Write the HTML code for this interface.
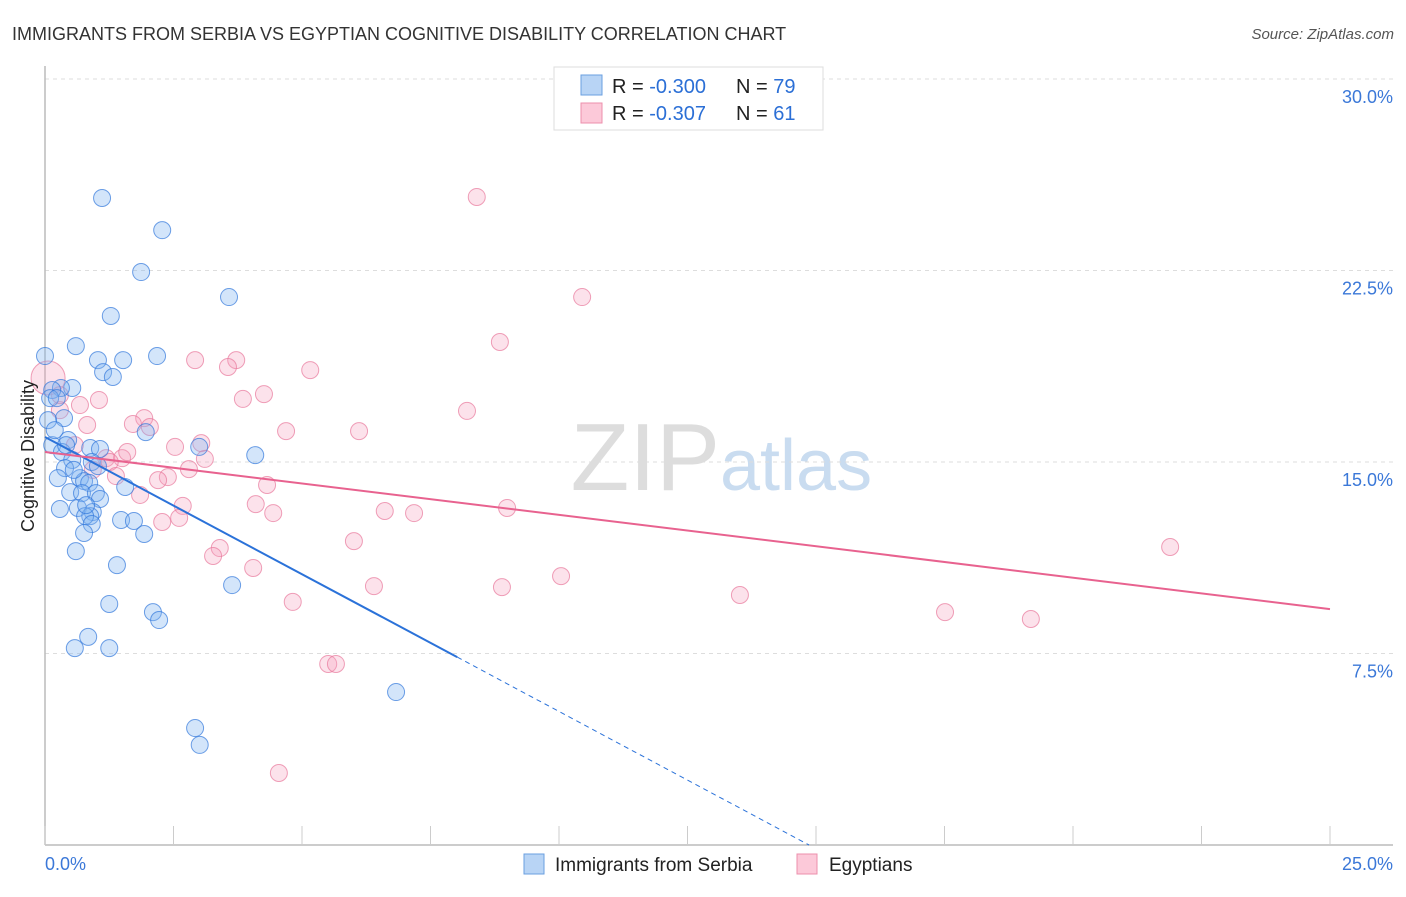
<!DOCTYPE html>
<html><head><meta charset="utf-8"><style>
body{margin:0;background:#fff;font-family:"Liberation Sans",sans-serif;}
svg text{font-family:"Liberation Sans",sans-serif;}
</style></head><body>
<svg id="chart" width="1406" height="892" xmlns="http://www.w3.org/2000/svg">
<text x="12" y="40" font-size="18" fill="#333">IMMIGRANTS FROM SERBIA VS EGYPTIAN COGNITIVE DISABILITY CORRELATION CHART</text>
<text x="1394" y="39" font-size="15" fill="#555" font-style="italic" text-anchor="end">Source: ZipAtlas.com</text>
<text x="720" y="490" font-size="96" fill="#ddd" text-anchor="end" font-family="Liberation Serif">ZIP</text>
<text x="720" y="490" font-size="72" fill="#c9dcf0">atlas</text>
<g id="grid"></g>
<g id="axes"></g>
<g id="pinkPts"></g>
<g id="bluePts"></g>
<g id="lines"></g>
<text transform="translate(34,456) rotate(-90)" font-size="18" fill="#222" text-anchor="middle">Cognitive Disability</text>
<g>
<rect x="554" y="67" width="269" height="63" fill="#fff" stroke="#ddd"/>
<rect x="581" y="75" width="21" height="20" fill="#b8d4f5" stroke="#6a9fe0"/>
<rect x="581" y="103" width="21" height="20" fill="#fcc9d9" stroke="#ec8fac"/>
<text x="612" y="93" font-size="20" fill="#222">R = <tspan fill="#2b6fd6">-0.300</tspan></text>
<text x="736" y="93" font-size="20" fill="#222">N = <tspan fill="#2b6fd6">79</tspan></text>
<text x="612" y="120" font-size="20" fill="#222">R = <tspan fill="#2b6fd6"> -0.307</tspan></text>
<text x="736" y="120" font-size="20" fill="#222">N = <tspan fill="#2b6fd6"> 61</tspan></text>
</g>
<g>
<rect x="524" y="854" width="20" height="20" fill="#b8d4f5" stroke="#6a9fe0"/>
<text x="555" y="871" font-size="19" fill="#222">Immigrants from Serbia</text>
<rect x="797" y="854" width="20" height="20" fill="#fcc9d9" stroke="#ec8fac"/>
<text x="829" y="871" font-size="19" fill="#222">Egyptians</text>
</g>
</svg>
<script>
const xTicks=[0,2.5,5,7.5,10,12.5,15,17.5,20,22.5,25];
const yTicks=[7.5,15,22.5,30];
const yTickLabels=["7.5%","15.0%","22.5%","30.0%"];
const blueX=[1.11,2.28,1.87,3.58,1.28,0.60,1.03,1.52,2.18,1.13,1.32,0.0,0.53,0.31,0.14,0.10,0.23,0.37,1.96,0.14,0.45,0.88,1.07,3.00,4.09,0.33,0.53,0.91,0.39,1.03,0.68,0.76,0.86,1.56,0.49,0.72,0.99,1.07,0.29,0.64,0.93,0.88,0.78,1.48,1.73,0.91,0.76,1.93,0.60,1.40,3.64,1.25,2.10,2.22,0.84,0.58,1.25,6.83,2.92,3.01,0.06,0.19,0.41,0.25,0.56,0.80];
const blueY=[25.34,24.08,22.44,21.46,20.72,19.54,18.99,18.99,19.15,18.52,18.33,19.15,17.90,17.90,17.82,17.50,17.50,16.72,16.17,15.66,15.86,15.55,15.51,15.59,15.27,15.39,15.08,15.00,14.76,14.84,14.37,14.25,14.18,14.02,13.82,13.78,13.78,13.55,13.16,13.20,13.04,12.88,12.88,12.73,12.69,12.57,12.22,12.18,11.51,10.96,10.18,9.44,9.12,8.81,8.15,7.71,7.71,5.99,4.58,3.92,16.64,16.25,15.66,14.37,14.69,13.31];
const pinkX=[8.40,10.45,8.85,2.92,3.72,3.56,5.16,4.26,3.85,8.21,1.05,0.29,0.06,0.82,1.93,1.71,2.04,2.53,3.04,4.69,6.11,0.58,1.19,1.50,1.60,3.11,2.80,2.39,2.20,4.32,1.85,1.26,0.93,2.68,4.10,4.44,6.61,7.18,8.99,2.61,2.28,6.01,3.40,3.27,4.05,6.40,8.89,10.04,21.89,13.52,4.82,17.51,19.18,5.51,5.66,4.55,1.38,0.29,0.68];
const pinkY=[25.38,21.46,19.70,18.99,18.99,18.72,18.60,17.66,17.47,17.00,17.43,17.03,18.29,16.45,16.72,16.49,16.37,15.59,15.74,16.21,16.21,15.66,15.15,15.15,15.39,15.12,14.72,14.41,14.29,14.10,13.71,15.00,14.69,13.28,13.35,13.00,13.08,13.00,13.20,12.81,12.65,11.90,11.63,11.32,10.85,10.14,10.10,10.53,11.67,9.79,9.52,9.12,8.85,7.09,7.09,2.82,14.45,17.62,17.23];
const blueTrend=[15.98,-1.075]; // intercept, slope
const pinkTrend=[15.39,-0.246];
const NS="http://www.w3.org/2000/svg";
const sx=v=>45+v/25*1285, sy=v=>845-v/7.5*191.5;
function mk(p,t,a){const e=document.createElementNS(NS,t);for(const k in a)e.setAttribute(k,a[k]);document.getElementById(p).appendChild(e);return e;}
yTicks.forEach((t,i)=>{
 const g=mk('grid','line',{x1:45,x2:1393,y1:sy(t),y2:sy(t),stroke:'#ddd','stroke-dasharray':'4,4'});
 
 
 const l=mk('grid','text',{x:1393,y:sy(t)+24,'font-size':18,fill:'#3b78d8','text-anchor':'end'});
 l.textContent=yTickLabels[i];
 
 
});
const ax=mk('axes','line',{x1:45,x2:1393,y1:845,y2:845,stroke:'#bbb','stroke-width':1.5});


const ay=mk('axes','line',{x1:45,x2:45,y1:66,y2:845,stroke:'#bbb','stroke-width':1.5});


xTicks.forEach(t=>{const e=mk('axes','line',{x1:sx(t),x2:sx(t),y1:826,y2:845,stroke:'#ccc'});
 
 });
const xl0=mk('axes','text',{x:45,y:870,'font-size':18,fill:'#3b78d8'});xl0.textContent=xTicks[0].toFixed(1)+'%';


const xl1=mk('axes','text',{x:1393,y:870,'font-size':18,fill:'#3b78d8','text-anchor':'end'});xl1.textContent=xTicks[10].toFixed(1)+'%';


pinkX.forEach((x,i)=>{const c=mk('pinkPts','circle',{cx:sx(x),cy:sy(pinkY[i]),r:i==12?17:8.5,fill:'rgba(246,160,190,0.3)',stroke:'rgba(232,120,155,0.7)','stroke-width':1});
 
 });
blueX.forEach((x,i)=>{const c=mk('bluePts','circle',{cx:sx(x),cy:sy(blueY[i]),r:8.5,fill:'rgba(130,180,240,0.35)',stroke:'rgba(50,120,220,0.7)','stroke-width':1});
 
 });
const bEnd=8.02, bZero=-blueTrend[0]/blueTrend[1];
const bl=mk('lines','line',{x1:sx(0),y1:sy(blueTrend[0]),x2:sx(bEnd),y2:sy(blueTrend[0]+blueTrend[1]*bEnd),stroke:'#2b72d9','stroke-width':2});


const bd=mk('lines','line',{x1:sx(bEnd),y1:sy(blueTrend[0]+blueTrend[1]*bEnd),x2:sx(bZero),y2:sy(0),stroke:'#2b72d9','stroke-width':1,'stroke-dasharray':'5,4'});


const pl=mk('lines','line',{x1:sx(0),y1:sy(pinkTrend[0]),x2:sx(25),y2:sy(pinkTrend[0]+pinkTrend[1]*25),stroke:'#e8628f','stroke-width':2});


</script>
</body></html>
